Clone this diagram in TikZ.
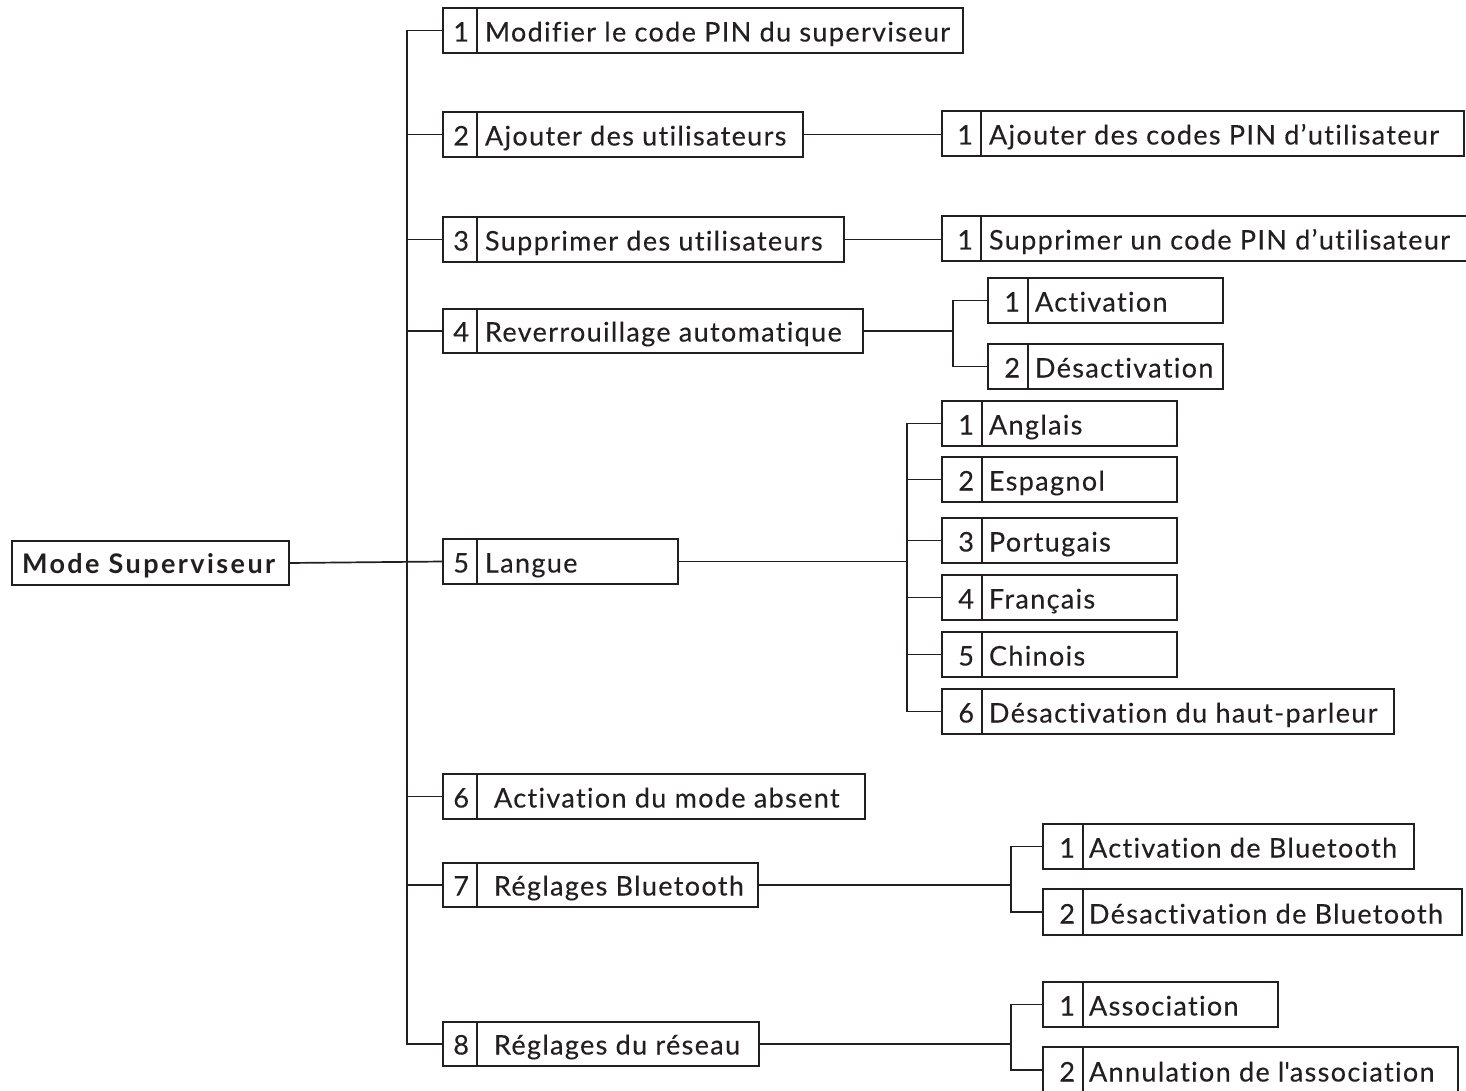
\documentclass[tikz,border=0pt]{standalone}
\usepackage{fontspec}
\setmainfont{Lato}
\newfontfamily\boxfont{Lato}[LetterSpace=5, Ligatures=NoCommon, FakeBold=0.25]
\newfontfamily\rootfont{Lato Bold}[LetterSpace=9, Ligatures=NoCommon]
\usetikzlibrary{calc}
\definecolor{ink}{RGB}{35,31,32}
\newcommand\lw{1.7pt}
\tikzset{
  boxst/.style={draw=ink, line width=\lw, inner sep=0pt, outer sep=0pt, rectangle},
  txt/.style={inner sep=0pt, outer sep=0pt, text=ink, font=\fontsize{27}{32}\boxfont},
  conn/.style={draw=ink, line width=\lw},
}
\newcommand\mybox[9]{%
  \node[boxst, anchor=north west, minimum width={(#4)-(#2)}, minimum height={(#5)-(#3)}] (#1) at (#2,#3) {};
  \draw[conn] ($(#1.north west)+(#6,0)$) -- ($(#1.south west)+(#6,0)$);
  \node[txt, anchor=base east] (#1n) at ($(#1.south west)+(#6-8,-11.5)$) {#7};
  \node[txt, anchor=base west] (#1t) at ($(#1.south west)+(#6+#8,-11.5)$) {#9};
}
\begin{document}
\begin{tikzpicture}[x=1pt,y=-1pt]
\useasboundingbox (0,0) rectangle (1466,1091);
\clip (0,0) rectangle (1466,1091);
% root
\node[boxst, anchor=north west, minimum width=277, minimum height=44] (root) at (12,541) {};
\node[txt, font=\fontsize{27}{32}\rootfont, anchor=base west] (roott) at ($(root.south west)+(10,-12)$) {Mode Superviseur};
% main boxes
\mybox{b1}{443}{8}{963}{53}{34}{1}{8}{Modifier le code PIN du superviseur}
\mybox{b2}{443}{112}{803}{157}{34}{2}{8}{Ajouter des utilisateurs}
\mybox{b3}{443}{217}{844}{262}{34}{3}{8}{Supprimer des utilisateurs}
\mybox{b4}{443}{309}{863}{353}{34}{4}{8}{Reverrouillage automatique}
\mybox{b5}{443}{539}{678}{584}{34}{5}{8}{Langue}
\mybox{b6}{443}{774}{865}{819}{34}{6}{17}{Activation du mode absent}
\mybox{b7}{443}{863}{758}{907}{34}{7}{17}{Réglages Bluetooth}
\mybox{b8}{443}{1022}{759}{1066}{34}{8}{17}{Réglages du réseau}
% sub boxes
\mybox{s21}{942}{111}{1464}{156}{39}{1}{8}{Ajouter des codes PIN d’utilisateur}
\mybox{s31}{942}{216}{1480}{261}{39}{1}{8}{Supprimer un code PIN d’utilisateur}
\mybox{s41}{988}{278}{1223}{323}{40}{1}{7}{Activation}
\mybox{s42}{988}{344}{1223}{389}{40}{2}{7}{Désactivation}
\mybox{s51}{942}{401}{1177}{446}{40}{1}{7}{Anglais}
\mybox{s52}{942}{457}{1177}{502}{40}{2}{7}{Espagnol}
\mybox{s53}{942}{518}{1177}{563}{40}{3}{7}{Portugais}
\mybox{s54}{942}{575}{1177}{620}{40}{4}{7}{Français}
\mybox{s55}{942}{632}{1177}{677}{40}{5}{7}{Chinois}
\mybox{s56}{942}{689}{1394}{734}{40}{6}{7}{Désactivation du haut-parleur}
\mybox{s71}{1043}{824}{1414}{869}{40}{1}{6}{Activation de Bluetooth}
\mybox{s72}{1043}{889}{1462}{935}{40}{2}{6}{Désactivation de Bluetooth}
\mybox{s81}{1043}{982}{1278}{1027}{40}{1}{6}{Association}
\mybox{s82}{1043}{1047}{1458}{1093}{40}{2}{6}{Annulation de l\textquotesingle association}
% junction x positions
\coordinate (xt) at (407,0);
\coordinate (x4) at (953,0);
\coordinate (x5) at (907,0);
\coordinate (x7) at (1011,0);
% trunk
\draw[conn] (root.east) -- (b5.west);
\draw[conn] (b1.west) -- (b1.west -| xt) -- (b8.west -| xt) -- (b8.west);
\foreach \b in {b2,b3,b4,b6,b7} \draw[conn] (\b.west) -- (\b.west -| xt);
% level 2
\draw[conn] (b2.east) -- (b2.east -| s21.west);
\draw[conn] (b3.east) -- (b3.east -| s31.west);
\draw[conn] (b4.east) -- (b4.east -| x4);
\draw[conn] (s41.west) -- (s41.west -| x4) -- (s42.west -| x4) -- (s42.west);
\draw[conn] (b5.east) -- (b5.east -| x5);
\draw[conn] (s51.west) -- (s51.west -| x5) -- (s56.west -| x5) -- (s56.west);
\foreach \s in {s52,s53,s54,s55} \draw[conn] (\s.west) -- (\s.west -| x5);
\draw[conn] (b7.east) -- (b7.east -| x7);
\draw[conn] (s71.west) -- (s71.west -| x7) -- (s72.west -| x7) -- (s72.west);
\draw[conn] (b8.east) -- (b8.east -| x7);
\draw[conn] (s81.west) -- (s81.west -| x7) -- (s82.west -| x7) -- (s82.west);
\end{tikzpicture}
\end{document}
